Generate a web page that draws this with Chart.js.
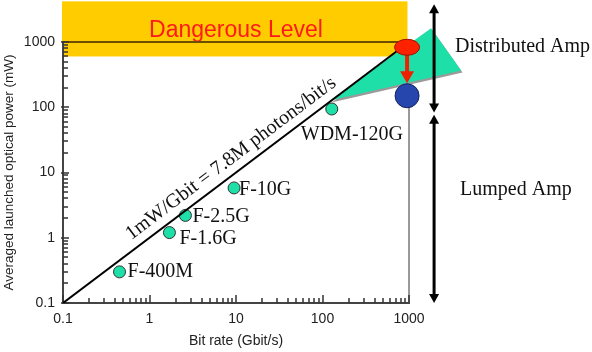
<!DOCTYPE html>
<html>
<head>
<meta charset="utf-8">
<script src="https://cdn.jsdelivr.net/npm/chart.js@4.4.1/dist/chart.umd.min.js"></script>
<style>
  html, body { margin: 0; padding: 0; background: #fff; }
  canvas { display: block; }
</style>
</head>
<body>
<canvas id="chart" width="592" height="352"></canvas>
<script>
// ---- values ----
const systemNames = ['F-400M', 'F-1.6G', 'F-2.5G', 'F-10G', 'WDM-120G'];
const systemRates = [0.45, 1.7, 2.6, 9.5, 128];      // Gbit/s
const systemPowers = [0.3, 1.2, 2.2, 5.8, 94];       // mW

// 1 mW per Gbit/s reference line
const refLineRates = [0.1, 900];
const refLinePowers = [0.1, 900];

// dangerous level band
const dangerLevel = 1000;
const dangerRates = [0.1, 960];
const dangerPowers = [600, 4200];

// lumped (red) vs distributed (blue) amplification
const lumpedPoint = [950, 830];
const distributedPoint = [950, 150];
const fanRates = [122, 1800, 4000];
const fanPowers = [127, 1625, 367];

// vertical range arrows
const ampRate = 1950;
const distributedSpan = [3800, 83];
const lumpedSpan = [77, 0.1];

const decadeTicks = [0.1, 1, 10, 100, 1000];
const minorSteps = [2, 3, 4, 5, 6, 7, 8, 9];

// ---- styling ----
const sansFont = "'Liberation Sans', Arial, sans-serif";
const serifFont = "'Liberation Serif', 'Times New Roman', serif";
const teal = '#1fdfa9';
const labelOffsets = [[8, 5.5], [10, 11], [7, 6.7], [5, 6.7], [-31, 31]];

function arrowHead(ctx, x, y, dir, w, len) {
  // tip at (x, y); dir -1 = pointing up, 1 = pointing down
  ctx.beginPath();
  ctx.moveTo(x, y);
  ctx.lineTo(x - w / 2, y - dir * len);
  ctx.lineTo(x + w / 2, y - dir * len);
  ctx.closePath();
  ctx.fill();
}

function doubleArrow(ctx, x, yTop, yBot) {
  const len = 9;
  ctx.lineWidth = 3;
  ctx.beginPath();
  ctx.moveTo(x, yTop + len - 1);
  ctx.lineTo(x, yBot - len + 1);
  ctx.stroke();
  arrowHead(ctx, x, yTop, -1, 10, len);
  arrowHead(ctx, x, yBot, 1, 10, len);
}

const figurePlugin = {
  id: 'figure',
  beforeDraw(chart) {
    const { ctx, chartArea } = chart;
    const { x, y } = chart.scales;
    ctx.save();
    ctx.fillStyle = '#fff';
    ctx.fillRect(0, 0, chart.width, chart.height);

    const x0 = x.getPixelForValue(dangerRates[0]);
    const x1 = x.getPixelForValue(dangerRates[1]);
    const yb = y.getPixelForValue(dangerPowers[0]);
    const yt = y.getPixelForValue(dangerPowers[1]);
    ctx.fillStyle = '#ffcc00';
    ctx.fillRect(x0 - 1, yt, x1 - x0 + 1, yb - yt);

    ctx.fillStyle = '#ff1a1a';
    ctx.font = '23px ' + sansFont;
    ctx.textAlign = 'center';
    ctx.textBaseline = 'alphabetic';
    ctx.fillText('Dangerous Level', (chartArea.left + chartArea.right) / 2,
      y.getPixelForValue(dangerLevel) - 5);
    ctx.restore();
  },

  beforeDatasetsDraw(chart) {
    const { ctx, chartArea } = chart;
    const { x, y } = chart.scales;
    ctx.save();

    // top border (dangerous level) and right border
    const yTop = y.getPixelForValue(dangerLevel);
    ctx.strokeStyle = '#6b4e00';
    ctx.lineWidth = 2;
    ctx.beginPath();
    ctx.moveTo(chartArea.left, yTop);
    ctx.lineTo(chartArea.right, yTop);
    ctx.stroke();
    ctx.strokeStyle = '#777';
    ctx.lineWidth = 1.5;
    ctx.beginPath();
    ctx.moveTo(chartArea.right, chartArea.top);
    ctx.lineTo(chartArea.right, chartArea.bottom);
    ctx.stroke();

    // inward tick marks
    ctx.strokeStyle = '#333';
    ctx.lineWidth = 1.5;
    ctx.beginPath();
    decadeTicks.forEach((d, i) => {
      const tx = Math.round(x.getPixelForValue(d));
      const ty = Math.round(y.getPixelForValue(d));
      ctx.moveTo(tx, chartArea.bottom);
      ctx.lineTo(tx, chartArea.bottom - 8);
      ctx.moveTo(chartArea.left - 2, ty);
      ctx.lineTo(chartArea.left + 6, ty);
      if (i === decadeTicks.length - 1) return;
      minorSteps.forEach(m => {
        const mx = Math.round(x.getPixelForValue(d * m));
        const my = Math.round(y.getPixelForValue(d * m));
        ctx.moveTo(mx, chartArea.bottom);
        ctx.lineTo(mx, chartArea.bottom - 5);
        ctx.moveTo(chartArea.left, my);
        ctx.lineTo(chartArea.left + 5, my);
      });
    });
    ctx.stroke();

    // fan between lumped and distributed operating points
    const pts = fanRates.map((r, i) => [x.getPixelForValue(r), y.getPixelForValue(fanPowers[i])]);
    ctx.fillStyle = '#9a9a9a';
    ctx.beginPath();
    pts.forEach(([px, py], i) => i ? ctx.lineTo(px + 1.5, py + 2) : ctx.moveTo(px + 1.5, py + 2));
    ctx.closePath();
    ctx.fill();
    ctx.fillStyle = teal;
    ctx.beginPath();
    pts.forEach(([px, py], i) => i ? ctx.lineTo(px, py) : ctx.moveTo(px, py));
    ctx.closePath();
    ctx.fill();
    ctx.restore();
  },

  afterDatasetsDraw(chart) {
    const { ctx } = chart;
    const { x, y } = chart.scales;
    ctx.save();

    // red -> blue arrow
    const ax = x.getPixelForValue(lumpedPoint[0]);
    const redY = y.getPixelForValue(lumpedPoint[1]);
    const bx = x.getPixelForValue(distributedPoint[0]);
    const blueY = y.getPixelForValue(distributedPoint[1]);
    ctx.fillStyle = '#ee2200';
    ctx.strokeStyle = '#ee2200';
    ctx.lineWidth = 4;
    ctx.beginPath();
    ctx.moveTo(ax, redY + 6);
    ctx.lineTo(ax, blueY - 12.5 - 11);
    ctx.stroke();
    arrowHead(ctx, ax, blueY - 12.5, 1, 14, 12);

    // red ellipse
    ctx.fillStyle = '#ff2200';
    ctx.strokeStyle = '#a01000';
    ctx.lineWidth = 1;
    ctx.beginPath();
    ctx.ellipse(ax, redY, 12.5, 8, 0, 0, Math.PI * 2);
    ctx.fill();
    ctx.stroke();

    // blue circle
    ctx.fillStyle = '#2646ad';
    ctx.strokeStyle = '#12245e';
    ctx.beginPath();
    ctx.arc(bx, blueY, 12, 0, Math.PI * 2);
    ctx.fill();
    ctx.stroke();

    // range arrows
    const vx = x.getPixelForValue(ampRate);
    ctx.fillStyle = '#000';
    ctx.strokeStyle = '#000';
    doubleArrow(ctx, vx, y.getPixelForValue(distributedSpan[0]), y.getPixelForValue(distributedSpan[1]));
    doubleArrow(ctx, vx, y.getPixelForValue(lumpedSpan[0]), y.getPixelForValue(lumpedSpan[1]));

    // serif annotations
    ctx.fillStyle = '#111';
    ctx.font = '20px ' + serifFont;
    ctx.textAlign = 'left';
    ctx.textBaseline = 'alphabetic';
    ctx.fillText('Distributed Amp', vx + 21, y.getPixelForValue(700));
    ctx.fillText('Lumped Amp', vx + 26, y.getPixelForValue(4.5));

    systemNames.forEach((name, i) => {
      const px = x.getPixelForValue(systemRates[i]);
      const py = y.getPixelForValue(systemPowers[i]);
      ctx.fillText(name, px + labelOffsets[i][0], py + labelOffsets[i][1]);
    });

    // slanted label along the 1 mW/Gbit line
    const lx0 = x.getPixelForValue(refLineRates[0]);
    const ly0 = y.getPixelForValue(refLinePowers[0]);
    const lx1 = x.getPixelForValue(refLineRates[1]);
    const ly1 = y.getPixelForValue(refLinePowers[1]);
    const angle = Math.atan2(ly1 - ly0, lx1 - lx0);
    ctx.translate(x.getPixelForValue(11), y.getPixelForValue(11));
    ctx.rotate(angle);
    ctx.textAlign = 'center';
    ctx.fillText('1mW/Gbit = 7.8M photons/bit/s', 0, -9);
    ctx.restore();
  }
};

new Chart(document.getElementById('chart'), {
  type: 'scatter',
  data: {
    datasets: [
      {
        type: 'line',
        data: refLineRates.map((r, i) => ({ x: r, y: refLinePowers[i] })),
        borderColor: '#000',
        borderWidth: 2,
        pointRadius: 0,
        fill: false
      },
      {
        data: systemRates.map((r, i) => ({ x: r, y: systemPowers[i] })),
        backgroundColor: teal,
        borderColor: '#333',
        borderWidth: 1,
        pointRadius: 6,
        clip: false
      }
    ]
  },
  options: {
    responsive: false,
    animation: false,
    layout: { padding: { top: 42, right: 183, left: 0, bottom: 0 } },
    plugins: { legend: { display: false }, tooltip: { enabled: false } },
    scales: {
      x: {
        type: 'logarithmic',
        position: 'bottom',
        min: 0.1,
        max: 1000,
        afterBuildTicks: s => { s.ticks = decadeTicks.map(v => ({ value: v })); },
        afterFit: s => { s.height = 49; },
        grid: { display: false, drawTicks: false },
        border: { display: true, color: '#444', width: 2 },
        ticks: {
          color: '#222',
          font: { family: sansFont, size: 14 },
          padding: 8,
          maxRotation: 0,
          autoSkip: false,
          callback: v => String(v)
        },
        title: {
          display: true,
          text: 'Bit rate (Gbit/s)',
          color: '#222',
          font: { family: sansFont, size: 14 },
          padding: { top: 0, bottom: 2 }
        }
      },
      y: {
        type: 'logarithmic',
        min: 0.1,
        max: 1000,
        afterBuildTicks: s => { s.ticks = decadeTicks.map(v => ({ value: v })); },
        afterFit: s => { s.width = 63; },
        grid: { display: false, drawTicks: false },
        border: { display: true, color: '#444', width: 2 },
        ticks: {
          color: '#222',
          font: { family: sansFont, size: 14 },
          padding: 8,
          autoSkip: false,
          callback: v => String(v)
        },
        title: {
          display: true,
          text: 'Averaged launched optical power (mW)',
          color: '#222',
          font: { family: sansFont, size: 13.5 },
          padding: { top: 1, bottom: 0 }
        }
      }
    }
  },
  plugins: [figurePlugin]
});
</script>
</body>
</html>
